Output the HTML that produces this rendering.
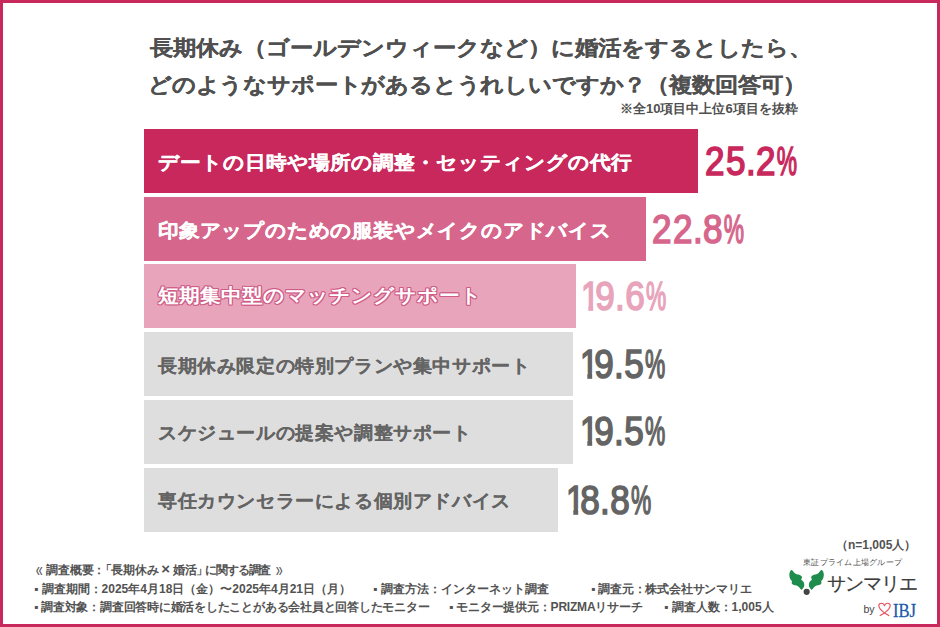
<!DOCTYPE html>
<html lang="ja">
<head>
<meta charset="utf-8">
<style>
html,body{margin:0;padding:0;}
body{width:940px;height:627px;position:relative;overflow:hidden;background:#fff;font-family:"Liberation Sans",sans-serif;}
.frame{position:absolute;left:0;top:0;width:940px;height:627px;box-sizing:border-box;border:3px solid #c8285c;}
.t{position:absolute;white-space:nowrap;line-height:1;font-weight:bold;}
.title{color:#505050;font-size:23px;transform-origin:0 50%;transform:scaleY(0.9);-webkit-text-stroke:0.2px #505050;}
.bar{position:absolute;left:144px;height:64px;}
.lbl{font-size:21px;transform-origin:0 50%;transform:scaleY(0.92);}
.g{font-size:19px;letter-spacing:0.6px;transform:scaleY(0.95);color:#646464;-webkit-text-stroke:0.1px #646464;}
.w{color:#fff;-webkit-text-stroke:0.3px #fff;}
.num{position:absolute;white-space:nowrap;line-height:1;font-weight:normal;font-size:41px;transform-origin:0 0;transform:scaleX(0.855);-webkit-text-stroke-width:1.6px;letter-spacing:1.8px;}
.one{display:inline-block;transform-origin:0 0;transform:scaleX(0.95);margin-right:-8px;clip-path:polygon(0 0,30px 0,30px 29.5px,15px 29.5px,15px 40px,9px 40px,9px 29.5px,0 29.5px);}
.dt{margin-left:-1.4px;margin-right:-1.4px;}
.pc{display:inline-block;transform-origin:0 0;transform:scaleX(0.65);}
.foot{color:#525252;font-size:12px;}
</style>
</head>
<body>
<div class="frame"></div>
<div class="t title" style="left:150px;top:37px;">長期休み（ゴールデンウィークなど）に婚活をするとしたら、</div>
<div class="t title" style="left:148px;top:74px;letter-spacing:-0.18px;">どのようなサポートがあるとうれしいですか？（複数回答可）</div>
<div class="t" style="left:620px;top:102px;font-size:13px;color:#505050;">※全10項目中上位6項目を抜粋</div>

<div class="bar" style="top:129px;width:554px;background:#c8285c;"></div>
<div class="bar" style="top:197px;width:501.5px;background:#d6668c;"></div>
<div class="bar" style="top:264px;width:431.5px;background:#e8a4bb;"></div>
<div class="bar" style="top:332px;width:429px;background:#dedede;"></div>
<div class="bar" style="top:400px;width:429px;background:#dedede;"></div>
<div class="bar" style="top:468px;width:414px;background:#dedede;"></div>

<div class="t lbl w" style="left:158px;top:152px;">デートの日時や場所の調整・セッティングの代行</div>
<div class="t lbl w" style="left:158px;top:219.5px;letter-spacing:-0.2px;">印象アップのための服装やメイクのアドバイス</div>
<div class="t lbl w" style="left:158px;top:285px;-webkit-text-stroke:0;text-shadow:1px 0 0 #d05c87,-1px 0 0 #d05c87,0 1px 0 #d05c87,0 -1px 0 #d05c87,1px 1px 0 #d05c87,-1px -1px 0 #d05c87,1px -1px 0 #d05c87,-1px 1px 0 #d05c87;">短期集中型のマッチングサポート</div>
<div class="t lbl g" style="left:158px;top:356px;">長期休み限定の特別プランや集中サポート</div>
<div class="t lbl g" style="left:158px;top:422.5px;">スケジュールの提案や調整サポート</div>
<div class="t lbl g" style="left:158px;top:491px;">専任カウンセラーによる個別アドバイス</div>

<div class="num" style="left:705px;top:140.5px;color:#c8285c;">25<span class="dt">.</span>2<span class="pc">%</span></div>
<div class="num" style="left:652px;top:208.5px;color:#d6668c;">22<span class="dt">.</span>8<span class="pc">%</span></div>
<div class="num" style="left:580.5px;top:276px;color:#e8a4bb;"><span class="one">1</span>9<span class="dt">.</span>6<span class="pc">%</span></div>
<div class="num" style="left:579.5px;top:343.5px;color:#646464;"><span class="one">1</span>9<span class="dt">.</span>5<span class="pc">%</span></div>
<div class="num" style="left:579.5px;top:410.5px;color:#646464;"><span class="one">1</span>9<span class="dt">.</span>5<span class="pc">%</span></div>
<div class="num" style="left:565.5px;top:479.5px;color:#646464;"><span class="one">1</span>8<span class="dt">.</span>8<span class="pc">%</span></div>

<div class="t foot" style="left:28px;top:563px;letter-spacing:-0.25px;"><span style="display:inline-block;font-family:'Liberation Sans',sans-serif;font-weight:normal;transform:translateY(-1.5px) scale(1.05,1.75);margin-left:8px;margin-right:4px;">«</span>調査概要<span style="margin-right:-3px">：</span><span style="margin-left:-2.6px">「</span>長期休み<span style="margin:0 3px;font-size:15px;line-height:12px">×</span>婚活<span style="margin-right:-2.8px">」</span><span style="letter-spacing:-1.2px">に関する調査</span><span style="display:inline-block;font-family:'Liberation Sans',sans-serif;font-weight:normal;transform:translateY(-1.5px) scale(1.05,1.75);margin-left:6px;">»</span></div>
<div class="t foot" style="left:34px;top:583px;">▪ 調査期間：2025年4月18日（金）〜2025年4月21日（月）</div>
<div class="t foot" style="left:373px;top:583px;">▪ 調査方法：インターネット調査</div>
<div class="t foot" style="left:591px;top:583px;letter-spacing:-0.2px;">▪ 調査元：株式会社サンマリエ</div>
<div class="t foot" style="left:34px;top:601px;letter-spacing:-0.23px;">▪ 調査対象：調査回答時に婚活をしたことがある会社員と回答したモニター</div>
<div class="t foot" style="left:449px;top:601px;letter-spacing:-0.2px;">▪ モニター提供元：PRIZMAリサーチ</div>
<div class="t foot" style="left:664px;top:601px;">▪ 調査人数：1,005人</div>
<div class="t foot" style="left:836px;top:538.5px;">（n=1,005人）</div>

<div class="t" style="left:803px;top:558.5px;font-size:8px;font-weight:normal;color:#555;letter-spacing:0.25px;">東証プライム上場グループ</div>
<svg style="position:absolute;left:786px;top:566px;" width="42" height="30" viewBox="0 0 42 30">
<path fill="#1e8c4c" d="M5.74 4.11C6.22 4.38 7.02 5.39 7.66 5.98C8.29 6.57 8.85 7.23 9.57 7.66C10.29 8.08 11.16 8.26 11.96 8.52C12.76 8.77 13.72 8.84 14.35 9.19C14.99 9.54 15.53 10.10 15.79 10.62C16.04 11.15 15.98 11.87 15.89 12.34C15.79 12.82 15.11 13.08 15.22 13.49C15.32 13.91 16.08 14.33 16.51 14.83C16.94 15.33 17.50 15.83 17.80 16.51C18.09 17.19 18.29 18.10 18.28 18.90C18.26 19.70 18.04 20.57 17.70 21.29C17.37 22.01 16.65 22.79 16.27 23.21C15.89 23.62 15.77 23.90 15.41 23.78C15.05 23.66 14.59 22.98 14.11 22.49C13.64 21.99 13.13 21.29 12.54 20.81C11.94 20.33 11.30 19.91 10.53 19.62C9.75 19.32 8.63 19.32 7.89 19.04C7.16 18.76 6.50 18.39 6.12 17.94C5.75 17.50 5.66 16.82 5.65 16.36C5.63 15.91 6.19 15.67 6.03 15.22C5.87 14.76 5.09 14.30 4.69 13.64C4.29 12.97 3.86 12.12 3.64 11.24C3.41 10.37 3.30 9.31 3.35 8.37C3.40 7.44 3.68 6.31 3.92 5.65C4.16 4.98 4.48 4.66 4.78 4.40C5.09 4.15 5.26 3.85 5.74 4.11Z"/>
<path fill="#1e8c4c" transform="translate(41.14,0) scale(-1,1)" d="M5.74 4.11C6.22 4.38 7.02 5.39 7.66 5.98C8.29 6.57 8.85 7.23 9.57 7.66C10.29 8.08 11.16 8.26 11.96 8.52C12.76 8.77 13.72 8.84 14.35 9.19C14.99 9.54 15.53 10.10 15.79 10.62C16.04 11.15 15.98 11.87 15.89 12.34C15.79 12.82 15.11 13.08 15.22 13.49C15.32 13.91 16.08 14.33 16.51 14.83C16.94 15.33 17.50 15.83 17.80 16.51C18.09 17.19 18.29 18.10 18.28 18.90C18.26 19.70 18.04 20.57 17.70 21.29C17.37 22.01 16.65 22.79 16.27 23.21C15.89 23.62 15.77 23.90 15.41 23.78C15.05 23.66 14.59 22.98 14.11 22.49C13.64 21.99 13.13 21.29 12.54 20.81C11.94 20.33 11.30 19.91 10.53 19.62C9.75 19.32 8.63 19.32 7.89 19.04C7.16 18.76 6.50 18.39 6.12 17.94C5.75 17.50 5.66 16.82 5.65 16.36C5.63 15.91 6.19 15.67 6.03 15.22C5.87 14.76 5.09 14.30 4.69 13.64C4.29 12.97 3.86 12.12 3.64 11.24C3.41 10.37 3.30 9.31 3.35 8.37C3.40 7.44 3.68 6.31 3.92 5.65C4.16 4.98 4.48 4.66 4.78 4.40C5.09 4.15 5.26 3.85 5.74 4.11Z"/>
<circle cx="20.67" cy="25.84" r="3.1" fill="#444"/>
</svg>
<div class="t" style="left:827px;top:574px;font-size:19px;font-weight:normal;color:#3c3c3c;letter-spacing:-0.9px;-webkit-text-stroke:0.2px #3c3c3c;">サンマリエ</div>
<div class="t" style="left:863.5px;top:604px;font-size:10.5px;font-weight:normal;color:#444;">by</div>
<svg style="position:absolute;left:874px;top:600px;" width="22" height="20" viewBox="0 0 22 20">
<path fill="none" stroke="#e6505c" stroke-width="1.15" stroke-linecap="round" d="M14.8 15.6L10.5 12.9C7 10.5 4.8 8 4.8 5.6C4.8 3.9 6 3.2 7.5 3.2C8.8 3.2 10 4.1 10.5 5.7"/>
<path fill="none" stroke="#e6505c" stroke-width="1.15" stroke-linecap="round" d="M6.2 15.6L10.5 12.9C14 10.5 16.2 8 16.2 5.6C16.2 3.9 15 3.2 13.5 3.2C12.2 3.2 11 4.1 10.5 5.7"/>
</svg>
<div class="t" style="left:893px;top:600.5px;font-size:19.5px;font-weight:normal;color:#1b5aaa;-webkit-text-stroke:0.3px #1b5aaa;font-family:'Liberation Serif',serif;transform-origin:0 0;transform:scaleX(0.85);">IBJ</div>
</body>
</html>
